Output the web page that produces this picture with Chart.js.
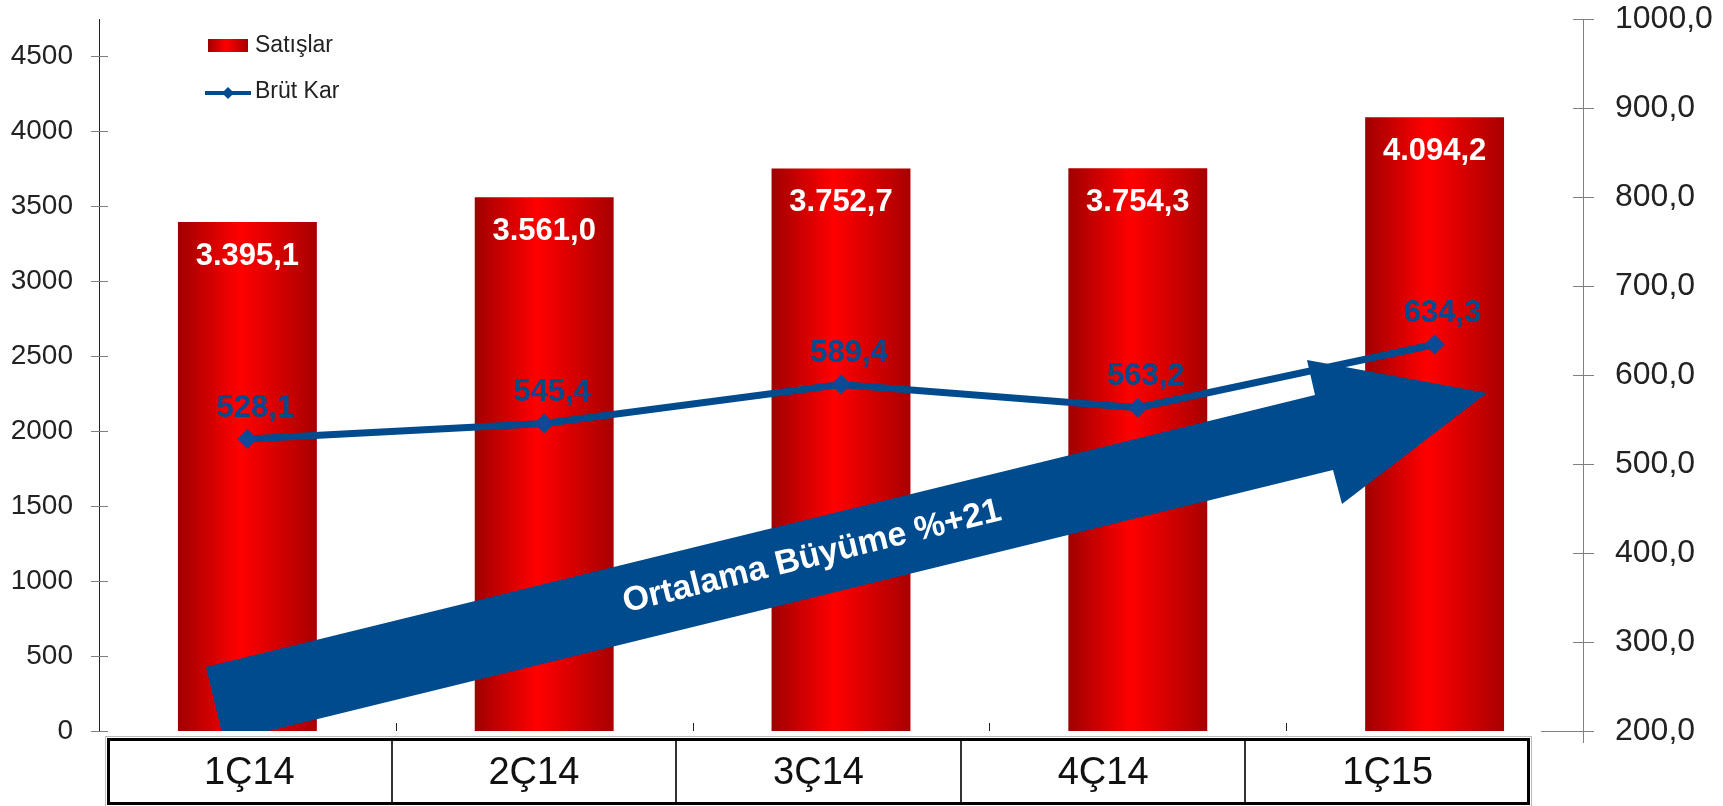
<!DOCTYPE html>
<html>
<head>
<meta charset="utf-8">
<script src="https://cdn.jsdelivr.net/npm/chart.js@4.4.0/dist/chart.umd.min.js"></script>
<style>
  html, body { margin: 0; padding: 0; background: #fff; }
  #wrap { width: 1723px; height: 806px; position: relative; }
</style>
</head>
<body>
<div id="wrap"><canvas id="myChart" width="1723" height="806"></canvas></div>
<script>
const quarters = ["1Ç14", "2Ç14", "3Ç14", "4Ç14", "1Ç15"];
const sales = [3395.1, 3561.0, 3752.7, 3754.3, 4094.2];
const grossProfit = [528.1, 545.4, 589.4, 563.2, 634.3];
const salesTicks = [0, 500, 1000, 1500, 2000, 2500, 3000, 3500, 4000, 4500];
const profitTicks = [200, 300, 400, 500, 600, 700, 800, 900, 1000];
const growthText = "Ortalama Büyüme %+21";

const FONT = '"Liberation Sans", Arial, sans-serif';
const BLUE = "#004b8d";

// turkish style numbers: 3.395,1
let trNum = (v) => {
  let parts = v.toFixed(1).split(".");
  let i = parts[0].replace(/\B(?=(\d{3})+(?!\d))/g, ".");
  return i + "," + parts[1];
};

let redGradient = (ctx, x0, x1) => {
  let g = ctx.createLinearGradient(x0, 0, x1, 0);
  g.addColorStop(0, "#a00000");
  g.addColorStop(0.45, "#ff0000");
  g.addColorStop(1, "#a80000");
  return g;
};

let noPad = (s) => {
  s.paddingTop = 0;
  s.paddingBottom = 0;
};

const decor = {
  id: "decor",
  beforeDatasetDraw(chart, args) {
    if (args.meta.type !== "line") return;
    // the big growth arrow sits between the bars and the line
    const ctx = chart.ctx;
    const a = chart.chartArea;
    ctx.save();
    ctx.beginPath();
    ctx.rect(a.left, a.top, a.right - a.left, a.bottom - a.top);
    ctx.clip();
    ctx.beginPath();
    ctx.moveTo(206, 667);
    ctx.lineTo(1315, 395);
    ctx.lineTo(1307, 360);
    ctx.lineTo(1487, 393);
    ctx.lineTo(1342, 504);
    ctx.lineTo(1333, 470);
    ctx.lineTo(224, 742);
    ctx.closePath();
    ctx.fillStyle = BLUE;
    ctx.fill();
    ctx.restore();

    ctx.save();
    ctx.translate(812, 557);
    ctx.rotate(Math.atan2(-272, 1109));
    ctx.fillStyle = "#fff";
    ctx.font = "bold 34px " + FONT;
    ctx.textAlign = "center";
    ctx.textBaseline = "middle";
    ctx.fillText(growthText, 0, 0);
    ctx.restore();
  },
  afterDatasetsDraw(chart) {
    const ctx = chart.ctx;
    const x = chart.scales.x;
    const y = chart.scales.y;
    const y2 = chart.scales.y2;
    const a = chart.chartArea;

    // bar value labels
    ctx.save();
    ctx.font = "bold 31px " + FONT;
    ctx.fillStyle = "#fff";
    ctx.textAlign = "center";
    ctx.textBaseline = "middle";
    sales.forEach((v, i) => {
      ctx.fillText(trNum(v), x.getPixelForValue(i), y.getPixelForValue(v) + 34);
    });
    // line value labels
    ctx.fillStyle = BLUE;
    grossProfit.forEach((v, i) => {
      ctx.fillText(trNum(v), x.getPixelForValue(i) + 8, y2.getPixelForValue(v) - 31);
    });
    ctx.restore();

    // axes
    ctx.save();
    ctx.lineWidth = 1;
    ctx.strokeStyle = "#222";
    ctx.beginPath();
    ctx.moveTo(a.left + 0.5, a.top);
    ctx.lineTo(a.left + 0.5, a.bottom);
    ctx.stroke();
    ctx.strokeStyle = "#808080";
    ctx.beginPath();
    y.ticks.forEach((t) => {
      let py = Math.round(y.getPixelForValue(t.value)) + 0.5;
      ctx.moveTo(a.left - 8, py);
      ctx.lineTo(a.left + 9, py);
    });
    ctx.stroke();

    ctx.beginPath();
    ctx.moveTo(a.right + 0.5, a.top);
    ctx.lineTo(a.right + 0.5, a.bottom + 12);
    y2.ticks.forEach((t) => {
      let py = Math.round(y2.getPixelForValue(t.value)) + 0.5;
      ctx.moveTo(a.right - 10, py);
      ctx.lineTo(a.right + 11, py);
    });
    // visible end of the category axis line
    ctx.moveTo(1541, a.bottom + 0.5);
    ctx.lineTo(a.right + 11, a.bottom + 0.5);
    ctx.stroke();

    // category separators
    ctx.strokeStyle = "#222";
    ctx.beginPath();
    const step = (a.right - a.left) / quarters.length;
    for (let i = 1; i < quarters.length; i++) {
      let px = Math.round(a.left + step * i) + 0.5;
      ctx.moveTo(px, a.bottom - 8);
      ctx.lineTo(px, a.bottom);
    }
    ctx.stroke();
    ctx.restore();

    // category table under the chart
    ctx.save();
    const tl = 107, tt = 738, tr = 1530, tb = 805;
    const cw = (tr - tl) / quarters.length;
    ctx.strokeStyle = "#bbb";
    ctx.lineWidth = 1;
    ctx.strokeRect(tl - 1.5, tt - 1.5, tr - tl + 3, tb - tt + 3);
    ctx.strokeStyle = "#000";
    ctx.lineWidth = 3;
    ctx.strokeRect(tl + 1.5, tt + 1.5, tr - tl - 3, tb - tt - 3);
    ctx.lineWidth = 2;
    ctx.strokeStyle = "#333";
    ctx.beginPath();
    for (let i = 1; i < quarters.length; i++) {
      let px = Math.round(tl + cw * i);
      ctx.moveTo(px, tt + 3);
      ctx.lineTo(px, tb - 3);
    }
    ctx.stroke();
    ctx.fillStyle = "#111";
    ctx.font = "38px " + FONT;
    ctx.textAlign = "center";
    ctx.textBaseline = "middle";
    quarters.forEach((q, i) => {
      ctx.fillText(q, tl + cw * (i + 0.5), 774);
    });
    ctx.restore();

    // legend
    ctx.save();
    const ds = chart.data.datasets;
    ctx.fillStyle = redGradient(ctx, 208, 248);
    ctx.fillRect(208, 39, 40, 13);
    ctx.strokeStyle = BLUE;
    ctx.lineWidth = 4;
    ctx.beginPath();
    ctx.moveTo(205, 93);
    ctx.lineTo(251, 93);
    ctx.stroke();
    ctx.fillStyle = BLUE;
    ctx.beginPath();
    ctx.moveTo(228, 87);
    ctx.lineTo(234, 93);
    ctx.lineTo(228, 99);
    ctx.lineTo(222, 93);
    ctx.closePath();
    ctx.fill();
    ctx.fillStyle = "#222";
    ctx.font = "23px " + FONT;
    ctx.textBaseline = "middle";
    ctx.fillText(ds[1].label, 255, 46);
    ctx.fillText(ds[0].label, 255, 92);
    ctx.restore();
  },
};

const ctx = document.getElementById("myChart").getContext("2d");

const mixedChart = new Chart(ctx, {
  type: "bar",
  data: {
    labels: quarters,
    datasets: [
      {
        type: "line",
        label: "Brüt Kar",
        data: grossProfit,
        yAxisID: "y2",
        borderColor: BLUE,
        backgroundColor: BLUE,
        borderWidth: 7,
        tension: 0,
        pointStyle: "rectRot",
        pointRadius: 10,
        pointBackgroundColor: "#0a4a96",
        pointBorderWidth: 0,
        order: 1,
      },
      {
        label: "Satışlar",
        data: sales,
        yAxisID: "y",
        backgroundColor: (c) => {
          const chart = c.chart;
          if (c.type !== "data" || !chart.chartArea) return "#e00000";
          const xs = chart.scales.x;
          const cx = xs.getPixelForValue(c.dataIndex);
          const w = (xs.width / quarters.length) * 0.468;
          return redGradient(chart.ctx, cx - w / 2, cx + w / 2);
        },
        borderWidth: 0,
        barPercentage: 0.468,
        categoryPercentage: 1,
        order: 2,
      },
    ],
  },
  options: {
    responsive: false,
    animation: false,
    layout: { padding: { top: 19, left: 0, right: 0, bottom: 0 } },
    plugins: {
      legend: { display: false },
      tooltip: { enabled: false },
    },
    scales: {
      x: {
        grid: { display: false, drawTicks: false },
        border: { display: false },
        ticks: { display: false },
        afterFit: (s) => { s.height = 75; },
      },
      y: {
        position: "left",
        min: 0,
        max: 4750,
        grid: { display: false, drawTicks: false },
        border: { display: false },
        afterBuildTicks: (s) => { s.ticks = salesTicks.map((v) => ({ value: v })); },
        afterFit: (s) => { s.width = 99; noPad(s); },
        ticks: {
          padding: 26,
          color: "#222",
          font: { family: FONT, size: 28 },
          callback: (v) => String(v),
        },
      },
      y2: {
        position: "right",
        min: 200,
        max: 1000,
        grid: { display: false, drawTicks: false },
        border: { display: false },
        afterBuildTicks: (s) => { s.ticks = profitTicks.map((v) => ({ value: v })); },
        afterFit: (s) => { s.width = 140; noPad(s); },
        ticks: {
          padding: 32,
          color: "#222",
          font: { family: FONT, size: 32 },
          callback: (v) => v.toFixed(1).replace(".", ","),
        },
      },
    },
  },
  plugins: [decor],
});
</script>
</body>
</html>
